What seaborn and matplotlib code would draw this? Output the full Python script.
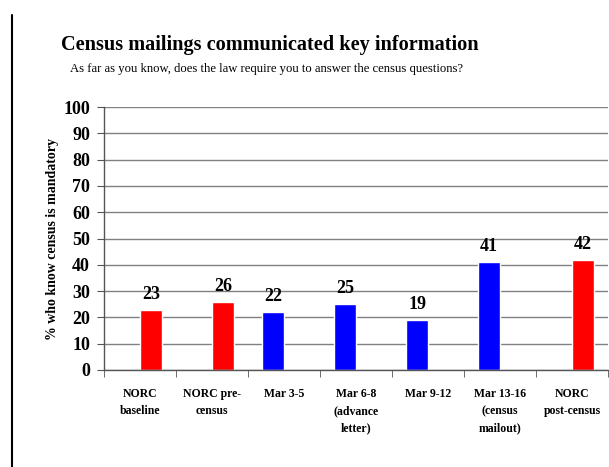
import numpy as np
import pandas as pd
import matplotlib
matplotlib.use("Agg")
import matplotlib.pyplot as plt
import seaborn as sns
from matplotlib.lines import Line2D

categories = [
    "NORC\nbaseline",
    "NORC pre-\ncensus",
    "Mar 3-5",
    "Mar 6-8\n(advance\nletter)",
    "Mar 9-12",
    "Mar 13-16\n(census\nmailout)",
    "NORC\npost-census",
]
source = ["NORC", "NORC", "Daily", "Daily", "Daily", "Daily", "NORC"]
pct_mandatory = [23, 26, 22, 25, 19, 41, 42]

df = pd.DataFrame({"period": categories, "source": source, "pct": pct_mandatory})

sns.set_style("white")
plt.rcParams["font.family"] = ["Liberation Serif", "DejaVu Serif"]
plt.rcParams["text.color"] = "black"
plt.rcParams["axes.labelcolor"] = "black"
plt.rcParams["xtick.color"] = "black"
plt.rcParams["ytick.color"] = "black"

fig = plt.figure(figsize=(6.09, 4.67), dpi=100)
ax = fig.add_axes([104 / 609, 1 - 370 / 467, 504 / 609, 263 / 467])

sns.barplot(
    data=df,
    x="period",
    y="pct",
    hue="source",
    hue_order=["Daily", "NORC"],
    order=categories,
    palette={"Daily": "#0000FF", "NORC": "#FF0000"},
    width=0.6,
    dodge=True,
    saturation=1,
    legend=False,
    ax=ax,
)

for cont in ax.containers:
    ax.bar_label(cont, fmt="%d", padding=5, fontsize=13, fontweight="bold")

ax.set_ylim(0, 100)
ax.set_xlim(-0.5, len(categories) - 0.5)
ax.set_yticks(np.arange(0, 101, 10))
ax.yaxis.grid(True, color="#808080", lw=1)
ax.set_axisbelow(True)
for s in ["top", "right"]:
    ax.spines[s].set_visible(False)
for s in ["left", "bottom"]:
    ax.spines[s].set_color("#555555")
    ax.spines[s].set_linewidth(1)

ax.set_xticks(np.arange(-0.5, len(categories), 1), minor=True)
ax.tick_params(axis="x", which="major", length=0, pad=13)
ax.tick_params(axis="x", which="minor", length=5, color="#555555", direction="out", bottom=True)
ax.tick_params(axis="y", length=5, color="#555555", labelcolor="black", direction="out", left=True, pad=5)
for lab in ax.get_xticklabels():
    lab.set_fontsize(8.5)
    lab.set_fontweight("bold")
    lab.set_linespacing(1.55)
    lab.set_verticalalignment("top")
for lab in ax.get_yticklabels():
    lab.set_fontsize(13)
    lab.set_fontweight("bold")

ax.set_xlabel("")
ax.set_ylabel("% who know census is mandatory", fontsize=10, fontweight="bold", labelpad=3)

fig.text(270 / 609, 1 - 45 / 467, "Census mailings communicated key information",
         ha="center", va="center", fontsize=14.6, fontweight="bold")
fig.text(266 / 609, 1 - 69 / 467, "As far as you know, does the law require you to answer the census questions?",
         ha="center", va="center", fontsize=9.1)

fig.add_artist(Line2D([12 / 609, 12 / 609], [0, 1 - 15 / 467], color="black", lw=1.5))

fig.savefig("out.png", dpi=100)
